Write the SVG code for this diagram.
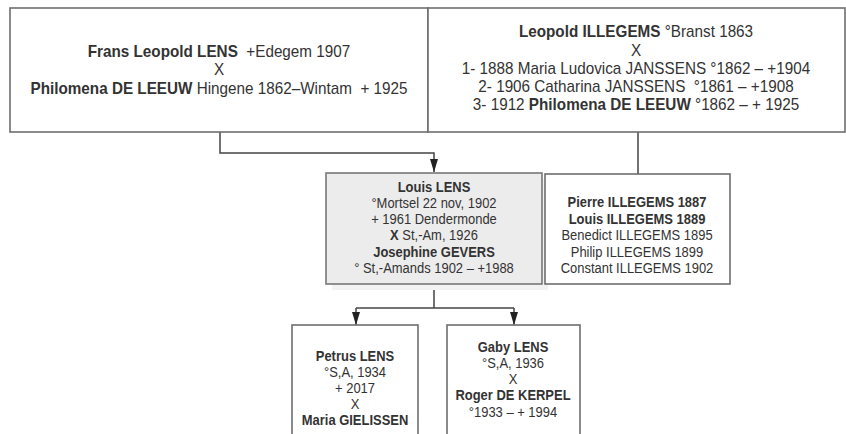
<svg xmlns="http://www.w3.org/2000/svg" width="846" height="434" viewBox="0 0 846 434">
<defs>
<marker id="arr" viewBox="0 0 13 9" refX="13" refY="4.5" markerWidth="13" markerHeight="9" markerUnits="userSpaceOnUse" orient="auto">
<path d="M0,0.5 L13,4.5 L0,8.5 z" fill="#222"/>
</marker>
<style>
.box{fill:#fff;stroke:#6e6e6e;stroke-width:1.6}
.gbox{fill:#ececec;stroke:#777;stroke-width:1.6}
.t{font-family:"Liberation Sans",Arial,sans-serif;fill:#333;text-anchor:middle}
.b{font-weight:bold}
.big{font-size:16.6px}
.sm{font-size:14.4px}
.c{fill:none;stroke:#444;stroke-width:1.5}
</style>
</defs>
<rect width="846" height="434" fill="#fff"/>
<g id="connectors">
<path class="c" d="M220,132 V153 H434 V172" marker-end="url(#arr)"/>
<path class="c" d="M638,132 V174"/>
<path class="c" d="M434,284 V308"/>
<path class="c" d="M356,308 H514"/>
<path class="c" d="M356,308 V325" marker-end="url(#arr)"/>
<path class="c" d="M514,308 V325" marker-end="url(#arr)"/>
</g>
<g id="n-frans">
<rect class="box" x="10" y="8" width="418" height="124"/>
<g transform="translate(219,0) scale(0.92,1)">
<text class="t big" x="0" y="57" xml:space="preserve"><tspan class="b">Frans Leopold LENS</tspan>  +Edegem 1907</text>
<text class="t big" x="0" y="75.5">X</text>
<text class="t big" x="0" y="94" xml:space="preserve"><tspan class="b">Philomena DE LEEUW</tspan> Hingene 1862–Wintam  + 1925</text>
</g>
</g>
<g id="n-leopold">
<rect class="box" x="428" y="8" width="417" height="124"/>
<g transform="translate(636,0) scale(0.92,1)">
<text class="t big" x="0" y="37"><tspan class="b">Leopold ILLEGEMS</tspan> °Branst 1863</text>
<text class="t big" x="0" y="56">X</text>
<text class="t big" x="0" y="74">1- 1888 Maria Ludovica JANSSENS °1862 – +1904</text>
<text class="t big" x="0" y="92" xml:space="preserve">2- 1906 Catharina JANSSENS  °1861 – +1908</text>
<text class="t big" x="0" y="110">3- 1912 <tspan class="b">Philomena DE LEEUW</tspan> °1862 – + 1925</text>
</g>
</g>
<g id="n-louis">
<rect x="332" y="179" width="216" height="111" fill="#f3f3f3"/>
<rect class="gbox" x="326" y="173" width="216" height="111"/>
<g transform="translate(434,0) scale(0.9,1)">
<text class="t sm b" x="0" y="192">Louis LENS</text>
<text class="t sm" x="0" y="208">°Mortsel 22 nov, 1902</text>
<text class="t sm" x="0" y="224">+ 1961 Dendermonde</text>
<text class="t sm" x="0" y="240"><tspan class="b">X</tspan> St,-Am, 1926</text>
<text class="t sm b" x="0" y="257">Josephine GEVERS</text>
<text class="t sm" x="0" y="273">° St,-Amands 1902 – +1988</text>
</g>
</g>
<g id="n-illegems-children">
<rect class="box" x="545" y="174" width="185" height="110"/>
<g transform="translate(637,0) scale(0.9,1)">
<text class="t sm b" x="0" y="207">Pierre ILLEGEMS 1887</text>
<text class="t sm b" x="0" y="224">Louis ILLEGEMS 1889</text>
<text class="t sm" x="0" y="240">Benedict ILLEGEMS 1895</text>
<text class="t sm" x="0" y="257">Philip ILLEGEMS 1899</text>
<text class="t sm" x="0" y="273">Constant ILLEGEMS 1902</text>
</g>
</g>
<g id="n-petrus">
<rect class="box" x="292" y="325" width="126" height="120"/>
<g transform="translate(355,0) scale(0.9,1)">
<text class="t sm b" x="0" y="361">Petrus LENS</text>
<text class="t sm" x="0" y="377">°S,A, 1934</text>
<text class="t sm" x="0" y="393">+ 2017</text>
<text class="t sm" x="0" y="409">X</text>
<text class="t sm b" x="0" y="425">Maria GIELISSEN</text>
</g>
</g>
<g id="n-gaby">
<rect class="box" x="447" y="325" width="133" height="120"/>
<g transform="translate(513,0) scale(0.9,1)">
<text class="t sm b" x="0" y="352">Gaby LENS</text>
<text class="t sm" x="0" y="368">°S,A, 1936</text>
<text class="t sm" x="0" y="384">X</text>
<text class="t sm b" x="0" y="400">Roger DE KERPEL</text>
<text class="t sm" x="0" y="417">°1933 – + 1994</text>
</g>
</g>
</svg>
